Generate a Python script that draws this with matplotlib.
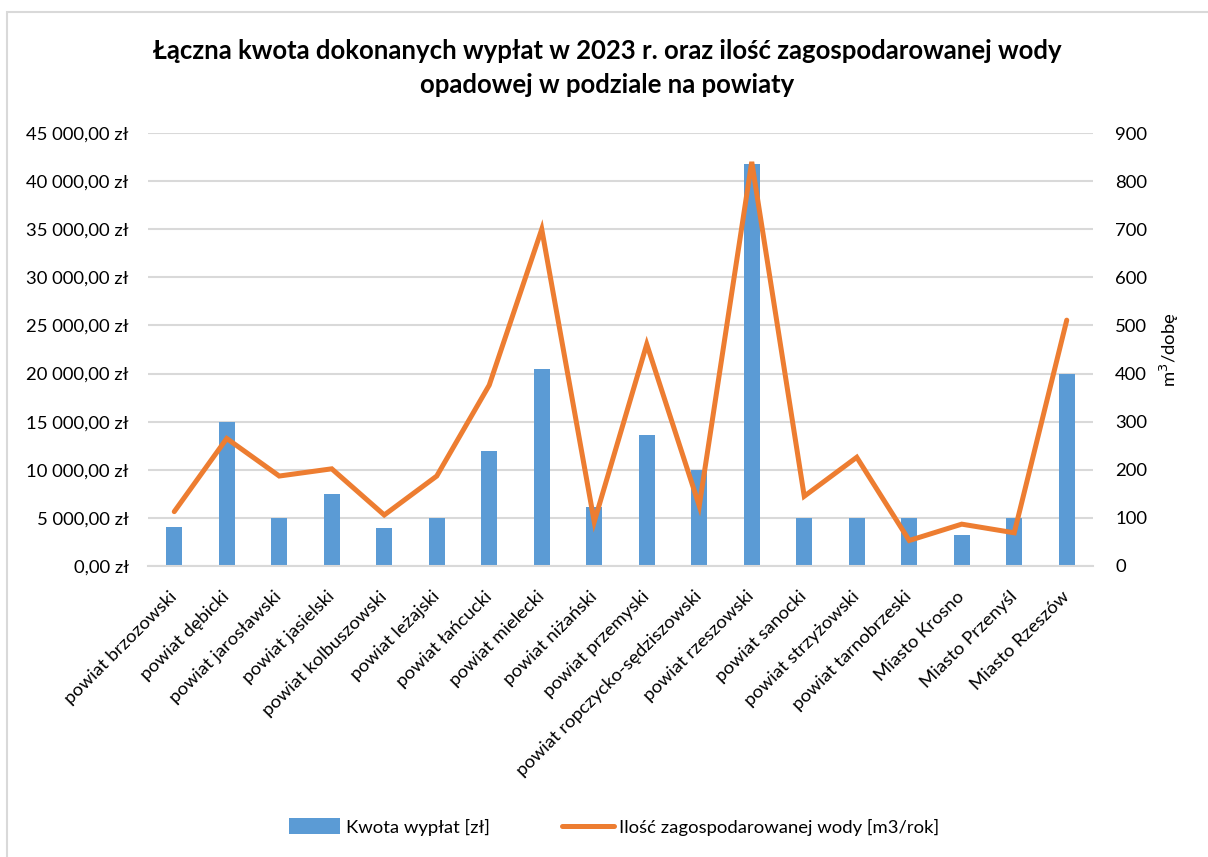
import matplotlib.pyplot as plt
import numpy as np
from matplotlib.lines import Line2D
from matplotlib.patches import Patch, Rectangle
from matplotlib.ticker import FuncFormatter, MultipleLocator

plt.rcParams["font.family"] = ["Lato", "DejaVu Sans"]

BAR_COLOR = "#5B9BD5"
LINE_COLOR = "#ED7D31"
GRID_COLOR = "#D9D9D9"
FS = 13.3

districts = [
    "powiat brzozowski", "powiat dębicki", "powiat jarosławski", "powiat jasielski",
    "powiat kolbuszowski", "powiat leżajski", "powiat łańcucki", "powiat mielecki",
    "powiat niżański", "powiat przemyski", "powiat ropczycko-sędziszowski",
    "powiat rzeszowski", "powiat sanocki", "powiat strzyżowski", "powiat tarnobrzeski",
    "Miasto Krosno", "Miasto Przenyśl", "Miasto Rzeszów",
]
payouts = [4100, 15000, 5000, 7500, 3900, 5000, 12000, 20500, 6100,
           13600, 10000, 41800, 5000, 5000, 5000, 3200, 5000, 20000]
water = [113, 265, 187, 202, 106, 187, 376, 700, 92,
         461, 125, 840, 145, 226, 53, 87, 69, 511]

title = ("Łączna kwota dokonanych wypłat w 2023 r. oraz ilość zagospodarowanej wody\n"
         "opadowej w podziale na powiaty")
bar_label = "Kwota wypłat [zł]"
line_label = "Ilość zagospodarowanej wody [m3/rok]"


def pln(value, _pos=None):
    text = f"{value:,.2f}".replace(",", " ").replace(".", ",")
    return f"{text} zł"


W, H = 1208, 857
fig = plt.figure(figsize=(W / 100, H / 100), dpi=100)
fig.patches.append(Rectangle((7 / W, -0.1), 1.2, 1 - 12 / H + 0.1,
                             transform=fig.transFigure, fill=False,
                             edgecolor=GRID_COLOR, linewidth=1.5))

ax = fig.add_axes([148 / W, (H - 566) / H, 945 / W, 433 / H])
x = np.arange(len(districts))
ax.bar(x, payouts, width=0.31, color=BAR_COLOR, zorder=2)
ax.set_xlim(-0.5, len(districts) - 0.5)
ax.set_ylim(0, 45000)
ax.yaxis.set_major_locator(MultipleLocator(5000))
ax.yaxis.set_major_formatter(FuncFormatter(pln))
ax.grid(axis="y", color=GRID_COLOR, linewidth=1.5, zorder=0)
for side in ("top", "left", "right"):
    ax.spines[side].set_visible(False)
ax.spines["bottom"].set_color(GRID_COLOR)
ax.spines["bottom"].set_linewidth(1.5)
ax.tick_params(axis="both", length=0, labelsize=FS, colors="#000000")
ax.tick_params(axis="y", pad=14)
ax.set_xticks(x)
ax.set_xticklabels(districts, rotation=45, ha="right", va="center",
                   rotation_mode="anchor")
ax.tick_params(axis="x", pad=20)

ax2 = ax.twinx()
ax2.plot(x, water, color=LINE_COLOR, linewidth=3.6, solid_capstyle="round",
         solid_joinstyle="miter", zorder=3)
ax2.set_ylim(0, 900)
ax2.yaxis.set_major_locator(MultipleLocator(100))
for side in ("top", "left", "right", "bottom"):
    ax2.spines[side].set_visible(False)
ax2.tick_params(axis="y", length=0, labelsize=FS, pad=16)
ax2.set_ylabel("m$^3$/dobę", fontsize=FS, labelpad=8)

fig.text(607 / W, 1 - 68 / H, title, ha="center", va="center",
         fontsize=18.5, fontweight="bold", linespacing=1.5)

handles = [Patch(facecolor=BAR_COLOR, label=bar_label),
           Line2D([0], [0], color=LINE_COLOR, linewidth=3.6,
                  solid_capstyle="round", label=line_label)]
fig.legend(handles=handles, loc="center", bbox_to_anchor=(614 / W, 1 - 827 / H),
           ncol=2, frameon=False, fontsize=FS, handlelength=2.8,
           handleheight=0.9, columnspacing=3.9, handletextpad=0.3)

fig.savefig("out.png", dpi=100)
